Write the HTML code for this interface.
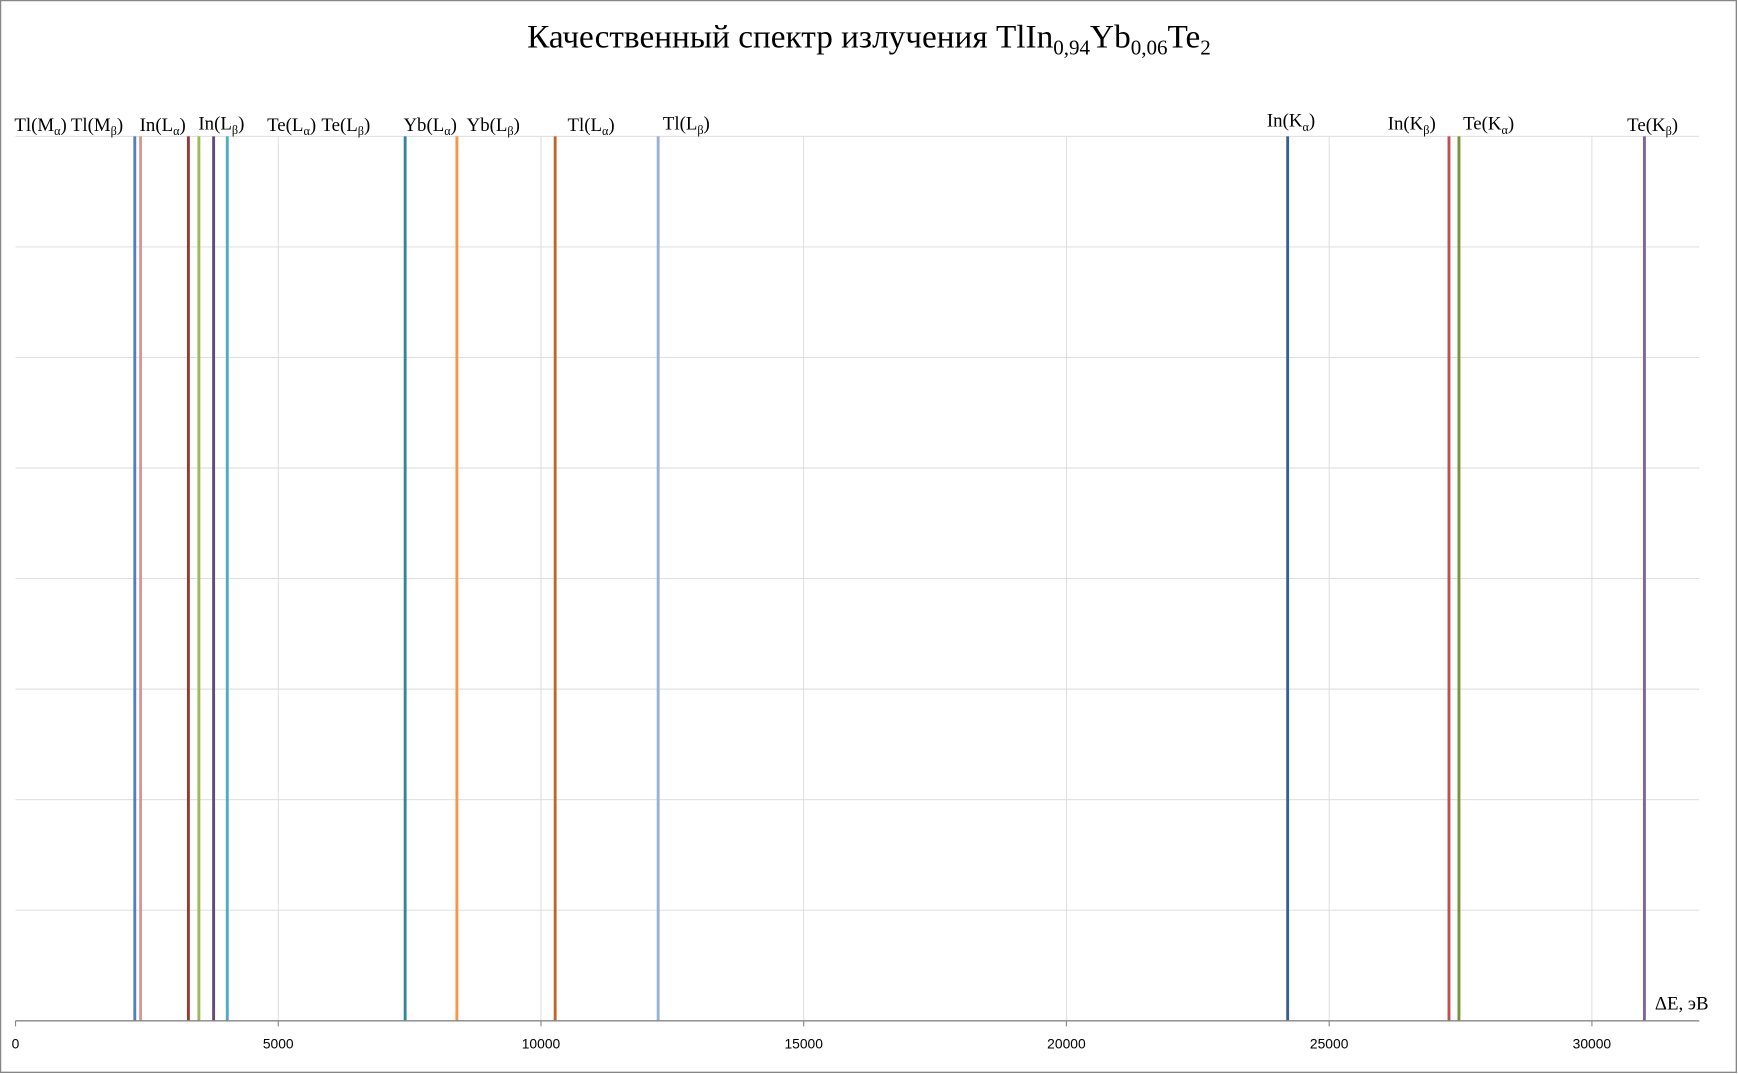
<!DOCTYPE html>
<html><head><meta charset="utf-8"><style>
html,body{margin:0;padding:0;background:#fff;}
svg{display:block;}
.lbl{font-family:"Liberation Serif",serif;font-size:17px;fill:#000;}
.tick{font-family:"Liberation Sans",sans-serif;font-size:12.5px;fill:#000;}
</style></head><body>
<svg id="chart" width="1738" height="1074" viewBox="0 0 1568 969" preserveAspectRatio="none" xmlns="http://www.w3.org/2000/svg">
<rect x="0.5" y="0.5" width="1566" height="967" fill="#fff" stroke="#868686" stroke-width="1.2"/>
<text x="784" y="43" text-anchor="middle" style="font-family:'Liberation Serif',serif;font-size:30px">Качественный спектр излучения TlIn<tspan font-size="19" dy="6">0,94</tspan><tspan dy="-6">Yb</tspan><tspan font-size="19" dy="6">0,06</tspan><tspan dy="-6">Te</tspan><tspan font-size="19" dy="6">2</tspan></text>
<g id="grid"></g>
<g id="lines"></g>
<g id="ticks"></g>
<g class="lbl">
<text x="13" y="118">Tl(M<tspan font-size="11" dy="4">α</tspan><tspan dy="-4">)</tspan></text>
<text x="64" y="118">Tl(M<tspan font-size="11" dy="4">β</tspan><tspan dy="-4">)</tspan></text>
<text x="126" y="118">In(L<tspan font-size="11" dy="4">α</tspan><tspan dy="-4">)</tspan></text>
<text x="179" y="117">In(L<tspan font-size="11" dy="4">β</tspan><tspan dy="-4">)</tspan></text>
<text x="241" y="118">Te(L<tspan font-size="11" dy="4">α</tspan><tspan dy="-4">)</tspan></text>
<text x="290" y="118">Te(L<tspan font-size="11" dy="4">β</tspan><tspan dy="-4">)</tspan></text>
<text x="364" y="118">Yb(L<tspan font-size="11" dy="4">α</tspan><tspan dy="-4">)</tspan></text>
<text x="421" y="118">Yb(L<tspan font-size="11" dy="4">β</tspan><tspan dy="-4">)</tspan></text>
<text x="512" y="118">Tl(L<tspan font-size="11" dy="4">α</tspan><tspan dy="-4">)</tspan></text>
<text x="598" y="117">Tl(L<tspan font-size="11" dy="4">β</tspan><tspan dy="-4">)</tspan></text>
<text x="1143" y="114">In(K<tspan font-size="11" dy="4">α</tspan><tspan dy="-4">)</tspan></text>
<text x="1252" y="117">In(K<tspan font-size="11" dy="4">β</tspan><tspan dy="-4">)</tspan></text>
<text x="1320" y="117">Te(K<tspan font-size="11" dy="4">α</tspan><tspan dy="-4">)</tspan></text>
<text x="1468" y="118">Te(K<tspan font-size="11" dy="4">β</tspan><tspan dy="-4">)</tspan></text>
</g>
<text class="lbl" x="1493" y="911">ΔE, эВ</text>
</svg>
<script>
const lineNames = ["Tl(Mα)","Tl(Mβ)","In(Lα)","In(Lβ)","Te(Lα)","Te(Lβ)","Yb(Lα)","Yb(Lβ)","Tl(Lα)","Tl(Lβ)","In(Kα)","In(Kβ)","Te(Kα)","Te(Kβ)"];
const lineEnergies = [2270, 2380, 3290, 3490, 3770, 4030, 7415, 8400, 10270, 12230, 24210, 27280, 27470, 31000];
const lineColors = ["#4F81BD","#D99694","#953735","#9BBB59","#604A7B","#4BACC6","#31859C","#F79646","#C0662A","#95B3D7","#366092","#C0504D","#77933C","#8064A2"];
const xTicks = [0, 5000, 10000, 15000, 20000, 25000, 30000];
const xMax = 32000;
const L=14, R=1531, T=123, B=921, rows=8;
const NS="http://www.w3.org/2000/svg";
const xs = v => L + (v/xMax)*(R-L);
function mk(tag, attrs, parent){const e=document.createElementNS(NS,tag);for(const k in attrs)e.setAttribute(k,attrs[k]);parent.appendChild(e);return e;}
const grid=document.getElementById('grid');
for(let i=0;i<rows;i++){
  const y=T+i*(B-T)/rows;
  const g=mk('line',{x1:L,x2:1533,y1:y,y2:y,stroke:'#d9d9d9','stroke-width':0.8},grid);
  
  
}
const ticks=document.getElementById('ticks');
xTicks.forEach(v=>{
  const x=xs(v);
  if(v>0){const g=mk('line',{x1:x,x2:x,y1:T,y2:B,stroke:'#d9d9d9','stroke-width':0.8},grid);
  
  }
  const tm=mk('line',{x1:x,x2:x,y1:B,y2:B+5,stroke:'#868686','stroke-width':1},ticks);
  
  
  const t=mk('text',{x:x,y:946,'text-anchor':'middle',class:'tick'},ticks);
  t.textContent=String(v);
  
  
});
const ax=mk('line',{x1:L,x2:1533,y1:B,y2:B,stroke:'#868686','stroke-width':1.2},ticks);


const lines=document.getElementById('lines');
lineEnergies.forEach((v,i)=>{
  const x=xs(v);
  const l=mk('line',{x1:x,x2:x,y1:T,y2:B,stroke:lineColors[i],'stroke-width':2.6},lines);
  
  
});
</script>
</body></html>
